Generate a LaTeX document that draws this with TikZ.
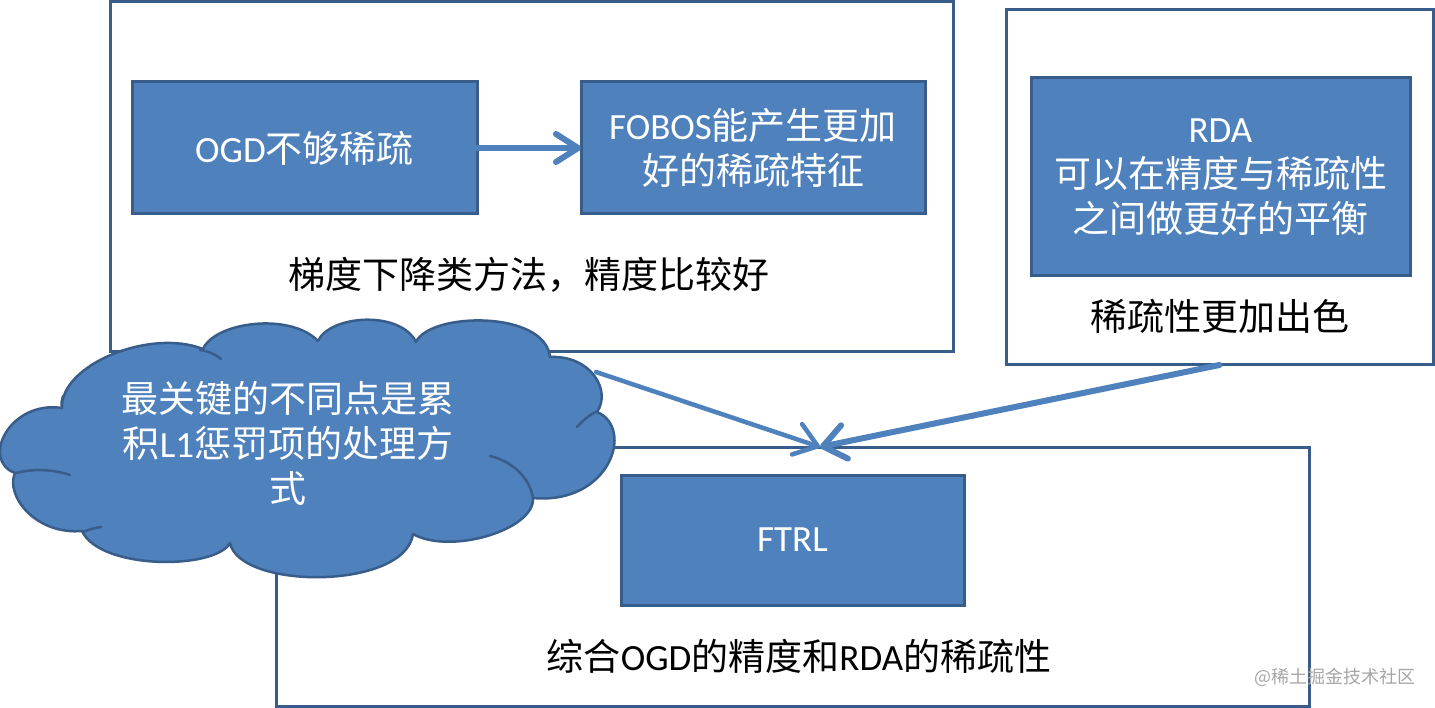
\documentclass[tikz,border=0pt]{standalone}
\usepackage{fontspec}
\setmainfont{Carlito}
\newfontfamily\cjk{Noto Sans CJK SC}
\usetikzlibrary{arrows.meta}
\definecolor{fillblue}{HTML}{4F81BD}
\definecolor{edgeblue}{HTML}{385D8A}
\definecolor{wmgray}{HTML}{A6A6A6}
\newcommand\bigtxt{\fontsize{37}{45}\selectfont}
\begin{document}
\begin{tikzpicture}[x=1pt,y=-1pt,
  frame/.style={draw=edgeblue, line width=3pt, rectangle, inner sep=0pt, outer sep=0pt},
  bluebox/.style={frame, fill=fillblue, text=white, align=center, font=\bigtxt},
  lbl/.style={font=\bigtxt, text=black, inner sep=0pt},
  link/.style={draw=fillblue, line cap=round, line join=round},
  cloudline/.style={draw=edgeblue, line width=2.5pt, line cap=round}
]
\useasboundingbox[fill=white] (0,0) rectangle (1435,708);

% containers
\node[frame, minimum width=843pt, minimum height=350pt] (c1) at (531.5,177) {};
\node[frame, minimum width=427pt, minimum height=355pt] (c2) at (1219.5,187.5) {};
\node[frame, minimum width=1033pt, minimum height=259pt] (c3) at (792.5,576.5) {};

% blue boxes
\node[bluebox, minimum width=345pt, minimum height=132pt] (ogd) at (304.5,148) {OGD{\cjk 不够稀疏}};
\node[bluebox, minimum width=344pt, minimum height=132pt] (fobos) at (753,148) {FOBOS{\cjk 能产生更加}\\{\cjk 好的稀疏特征}};
\node[bluebox, minimum width=379pt, minimum height=198pt] (rda) at (1220.5,177) {RDA\\{\cjk 可以在精度与稀疏性}\\{\cjk 之间做更好的平衡}};
\node[bluebox, minimum width=343pt, minimum height=130pt] (ftrl) at (792.5,540) {FTRL};

% container labels
\node[lbl] (l1) at (529,275) {\cjk 梯度下降类方法，精度比较好};
\node[lbl] (l2) at (1220,316) {\cjk 稀疏性更加出色};
\node[lbl] (l3) at (799,656) {{\cjk 综合}OGD{\cjk 的精度和}RDA{\cjk 的稀疏性}};

% connectors
\coordinate (meet) at (820,447);
\coordinate (cloudout) at (596,372);
\draw[link, line width=6pt, -{Straight Barb[round,length=22pt,width=28pt]}] (ogd.east) -- (fobos.west);
\draw[link, line width=4.5pt, -{Straight Barb[round,length=22pt,width=32pt]}] (cloudout) -- (meet);
\draw[link, line width=6pt, -{Straight Barb[round,length=22pt,width=34pt]}] (c2.south) -- (meet);

% cloud
\path[draw=edgeblue, fill=fillblue, line width=2.5pt, line join=round]
  (62,408) .. controls (60,365) and (150,328) .. (203,349)
  .. controls (215,322) and (290,312) .. (318,341)
  .. controls (330,315) and (400,310) .. (416,342)
  .. controls (430,312) and (545,310) .. (550,357)
  .. controls (590,355) and (612,390) .. (597,412)
  .. controls (635,428) and (610,505) .. (533,498)
  .. controls (535,530) and (450,555) .. (413,534)
  .. controls (405,590) and (240,590) .. (230,543)
  .. controls (215,570) and (100,570) .. (82,531)
  .. controls (35,535) and (5,495) .. (15,473)
  .. controls (-20,460) and (10,400) .. (62,408) -- cycle;
\draw[cloudline] (200,350) .. controls (208,351) and (215,354) .. (221,359);
\draw[cloudline] (577,427) .. controls (584,419) and (591,414) .. (598,411);
\draw[cloudline] (490,456) .. controls (512,461) and (530,478) .. (533,498);
\draw[cloudline] (83,532) .. controls (90,529) and (95,528) .. (101,527);
\draw[cloudline] (16,473) .. controls (35,468) and (55,470) .. (70,475);
\draw[cloudline] (62,408) .. controls (61,402) and (62,400) .. (63,396);
\node[text=white, align=center, font=\bigtxt] (cloudtxt) at (288,443)
  {{\cjk 最关键的不同点是累}\\{\cjk 积}L1{\cjk 惩罚项的处理方}\\{\cjk 式}};

% watermark
\node[text=wmgray, font=\cjk\fontsize{18}{20}\selectfont, inner sep=0pt] (wm) at (1335,677) {@稀土掘金技术社区};
\end{tikzpicture}
\end{document}
